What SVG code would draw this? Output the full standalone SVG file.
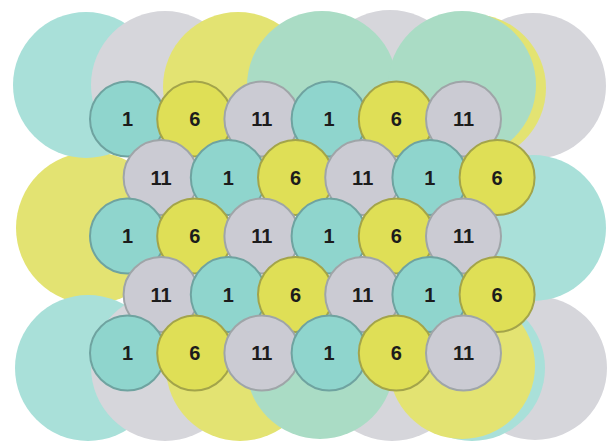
<svg xmlns="http://www.w3.org/2000/svg" width="608" height="446" viewBox="0 0 608 446">
<style>
.bt{fill:#a9e0d9}.bg{fill:#d6d6db}.by{fill:#e3e372}.bm{fill:#aadcc5}
.c{stroke-width:2}
.t{fill:#8fd5cd;stroke:#6fa3a0}.y{fill:#dfdf56;stroke:#a3a44a}.g{fill:#cbcbd3;stroke:#9fa5a8}
text{font-family:"Liberation Sans",Arial,sans-serif;font-weight:bold;font-size:20px;fill:#1c1c1c;text-anchor:middle}
</style>
<rect width="608" height="446" fill="#ffffff"/>
<g id="coverage">
<circle class="by" cx="92" cy="228" r="76"/>
<circle class="bt" cx="86" cy="85" r="73"/>
<circle class="bg" cx="165" cy="85" r="74"/>
<circle class="by" cx="238" cy="87" r="75"/>
<circle class="bg" cx="390" cy="84" r="74"/>
<circle class="bg" cx="533" cy="86" r="73"/>
<circle class="bm" cx="322" cy="86" r="75"/>
<circle class="by" cx="472" cy="88" r="74"/>
<circle class="bm" cx="462" cy="85" r="74"/>
<circle class="bt" cx="88" cy="368" r="73"/>
<circle class="bg" cx="165" cy="367" r="74"/>
<circle class="by" cx="240" cy="367" r="74"/>
<circle class="bg" cx="392" cy="367" r="74"/>
<circle class="bm" cx="320" cy="365" r="74"/>
<circle class="bg" cx="535" cy="368" r="72"/>
<circle class="by" cx="470" cy="228" r="75"/>
<circle class="bt" cx="533" cy="228" r="73"/>
<circle class="bt" cx="472" cy="368" r="73"/>
<circle class="by" cx="462" cy="366" r="73"/>
</g>
<g id="connectors"></g>
<g id="r1">
<g id="n1_1"><circle class="c t" cx="127.5" cy="119" r="37.5"/><text x="127.5" y="126">1</text></g>
<g id="n1_2"><circle class="c y" cx="194.7" cy="119" r="37.5"/><text x="194.7" y="126">6</text></g>
<g id="n1_3"><circle class="c g" cx="261.9" cy="119" r="37.5"/><text x="261.9" y="126">11</text></g>
<g id="n1_4"><circle class="c t" cx="329.1" cy="119" r="37.5"/><text x="329.1" y="126">1</text></g>
<g id="n1_5"><circle class="c y" cx="396.3" cy="119" r="37.5"/><text x="396.3" y="126">6</text></g>
<g id="n1_6"><circle class="c g" cx="463.5" cy="119" r="37.5"/><text x="463.5" y="126">11</text></g>
</g>
<g id="r2">
<g id="n2_1"><circle class="c g" cx="161.1" cy="177.5" r="37.5"/><text x="161.1" y="184.5">11</text></g>
<g id="n2_2"><circle class="c t" cx="228.3" cy="177.5" r="37.5"/><text x="228.3" y="184.5">1</text></g>
<g id="n2_3"><circle class="c y" cx="295.5" cy="177.5" r="37.5"/><text x="295.5" y="184.5">6</text></g>
<g id="n2_4"><circle class="c g" cx="362.7" cy="177.5" r="37.5"/><text x="362.7" y="184.5">11</text></g>
<g id="n2_5"><circle class="c t" cx="429.9" cy="177.5" r="37.5"/><text x="429.9" y="184.5">1</text></g>
<g id="n2_6"><circle class="c y" cx="497.1" cy="177.5" r="37.5"/><text x="497.1" y="184.5">6</text></g>
</g>
<g id="r3">
<g id="n3_1"><circle class="c t" cx="127.5" cy="236" r="37.5"/><text x="127.5" y="243">1</text></g>
<g id="n3_2"><circle class="c y" cx="194.7" cy="236" r="37.5"/><text x="194.7" y="243">6</text></g>
<g id="n3_3"><circle class="c g" cx="261.9" cy="236" r="37.5"/><text x="261.9" y="243">11</text></g>
<g id="n3_4"><circle class="c t" cx="329.1" cy="236" r="37.5"/><text x="329.1" y="243">1</text></g>
<g id="n3_5"><circle class="c y" cx="396.3" cy="236" r="37.5"/><text x="396.3" y="243">6</text></g>
<g id="n3_6"><circle class="c g" cx="463.5" cy="236" r="37.5"/><text x="463.5" y="243">11</text></g>
</g>
<g id="r4">
<g id="n4_1"><circle class="c g" cx="161.1" cy="294.5" r="37.5"/><text x="161.1" y="301.5">11</text></g>
<g id="n4_2"><circle class="c t" cx="228.3" cy="294.5" r="37.5"/><text x="228.3" y="301.5">1</text></g>
<g id="n4_3"><circle class="c y" cx="295.5" cy="294.5" r="37.5"/><text x="295.5" y="301.5">6</text></g>
<g id="n4_4"><circle class="c g" cx="362.7" cy="294.5" r="37.5"/><text x="362.7" y="301.5">11</text></g>
<g id="n4_5"><circle class="c t" cx="429.9" cy="294.5" r="37.5"/><text x="429.9" y="301.5">1</text></g>
<g id="n4_6"><circle class="c y" cx="497.1" cy="294.5" r="37.5"/><text x="497.1" y="301.5">6</text></g>
</g>
<g id="r5">
<g id="n5_1"><circle class="c t" cx="127.5" cy="353" r="37.5"/><text x="127.5" y="360">1</text></g>
<g id="n5_2"><circle class="c y" cx="194.7" cy="353" r="37.5"/><text x="194.7" y="360">6</text></g>
<g id="n5_3"><circle class="c g" cx="261.9" cy="353" r="37.5"/><text x="261.9" y="360">11</text></g>
<g id="n5_4"><circle class="c t" cx="329.1" cy="353" r="37.5"/><text x="329.1" y="360">1</text></g>
<g id="n5_5"><circle class="c y" cx="396.3" cy="353" r="37.5"/><text x="396.3" y="360">6</text></g>
<g id="n5_6"><circle class="c g" cx="463.5" cy="353" r="37.5"/><text x="463.5" y="360">11</text></g>
</g>
</svg>
